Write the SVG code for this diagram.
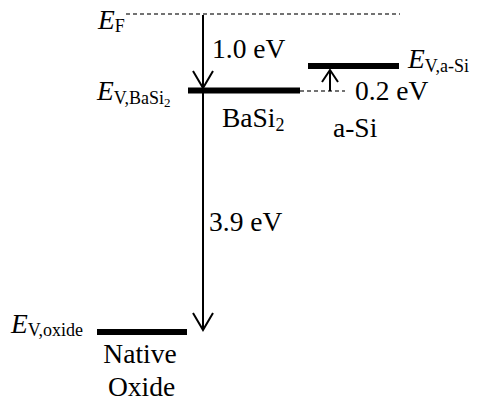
<svg xmlns="http://www.w3.org/2000/svg" width="478" height="409" viewBox="0 0 478 409">
<style>
.t{font-family:'Liberation Serif',serif;fill:#000;font-size:27.5px}
.i{font-style:italic}
.s{font-size:18px}
.ss{font-size:13px}
.bar{stroke:#000;stroke-width:6;fill:none}
.ln{stroke:#000;stroke-width:2;fill:none}
.dash{stroke:#444;stroke-width:1.3;stroke-dasharray:4 3;fill:none}
</style>
<rect width="478" height="409" fill="#fff"/>
<g id="fermi">
<line class="dash" x1="126" y1="14" x2="400" y2="14"/>
<text class="t" x="98" y="29"><tspan class="i">E</tspan><tspan class="s" dy="3">F</tspan></text>
</g>
<g id="basi2">
<line class="bar" x1="188" y1="90.5" x2="300" y2="90.5"/>
<text class="t" x="97" y="100"><tspan class="i">E</tspan><tspan class="s" dy="4">V,BaSi</tspan><tspan class="ss" dy="3">2</tspan></text>
<text class="t" x="222" y="127">BaSi<tspan class="s" dy="4">2</tspan></text>
</g>
<g id="asi">
<line class="bar" x1="308" y1="66" x2="399" y2="66"/>
<text class="t" x="408" y="68"><tspan class="i">E</tspan><tspan class="s" dy="4">V,a-Si</tspan></text>
<text class="t" x="333" y="137">a-Si</text>
</g>
<g id="oxide">
<line class="bar" x1="97" y1="332" x2="187" y2="332"/>
<text class="t" x="11" y="333"><tspan class="i">E</tspan><tspan class="s" dy="3">V,oxide</tspan></text>
<text class="t" x="140" y="363" text-anchor="middle">Native</text>
<text class="t" x="141.5" y="396" text-anchor="middle">Oxide</text>
</g>
<g id="connectors">
<line class="ln" x1="203" y1="15" x2="203" y2="330"/>
<polyline class="ln" points="193,71 203,88 213,71"/>
<polyline class="ln" points="193,313 203,330 213,313"/>
<line class="dash" x1="300" y1="91" x2="345" y2="91"/>
<line class="ln" x1="330" y1="91" x2="330" y2="70"/>
<polyline class="ln" points="322,82 330,70 338,82"/>
<text class="t" x="212" y="58">1.0 eV</text>
<text class="t" x="355" y="100">0.2 eV</text>
<text class="t" x="209" y="231">3.9 eV</text>
</g>
</svg>
